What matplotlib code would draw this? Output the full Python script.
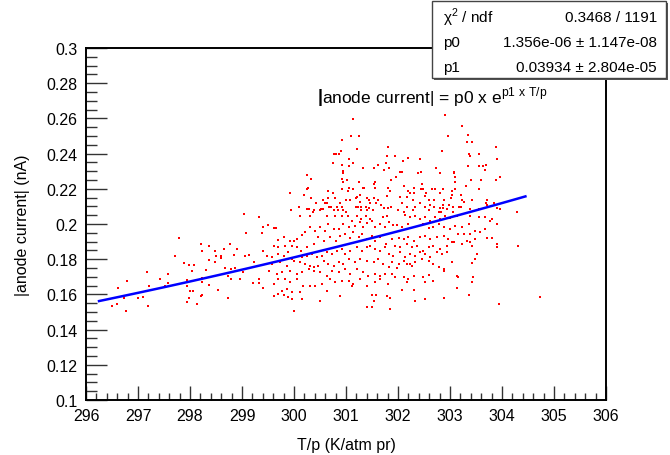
import numpy as np
import matplotlib
matplotlib.use("Agg")
import matplotlib.pyplot as plt
from matplotlib.ticker import MultipleLocator

plt.rcParams['font.family'] = ['Liberation Sans', 'DejaVu Sans']
plt.rcParams['mathtext.fontset'] = 'custom'
plt.rcParams['mathtext.rm'] = 'Liberation Sans'

# fit result shown in the stats box
chi2_ndf = "0.3468 / 1191"
p0_txt = "1.356e-06 ± 1.147e-08"
p1_txt = "0.03934 ± 2.804e-05"
p0 = 1.356e-06
p1 = 0.03934
fit_xmin, fit_xmax = 296.25, 304.45

# measured points (T/p, |anode current|), read off the plot region by region
# left, sparse part
left_x = [297.79, 297.71, 297.88, 297.98, 298.08, 298.04, 297.94, 297.94, 298.00, 298.06,
          297.98, 297.94, 298.13, 298.21, 298.23, 298.21, 298.23, 298.37, 298.31, 298.23,
          298.23, 298.37, 298.37, 298.48, 298.48, 298.50, 298.60, 298.60, 298.65, 298.54,
          298.77, 298.85, 298.90, 298.67, 298.79, 298.87, 298.73, 298.79, 298.73, 298.96,
          299.02, 299.06, 299.13, 299.08, 299.21, 299.33, 299.33, 299.23, 296.50, 296.60,
          296.73, 296.77, 296.79, 296.62, 297.00, 297.10, 297.17, 297.21, 297.19, 297.42,
          297.52, 297.58, 297.58, 299.04, 299.33]
left_y = [0.1920, 0.1818, 0.1778, 0.1767, 0.1767, 0.1733, 0.1682, 0.1648, 0.1619, 0.1619,
          0.1580, 0.1557, 0.1545, 0.1591, 0.1597, 0.1886, 0.1847, 0.1875, 0.1739, 0.1693,
          0.1670, 0.1795, 0.1653, 0.1847, 0.1784, 0.1818, 0.1818, 0.1807, 0.1858, 0.1625,
          0.1886, 0.1824, 0.1858, 0.1750, 0.1744, 0.1750, 0.1705, 0.1688, 0.1580, 0.1688,
          0.1727, 0.1818, 0.1824, 0.1949, 0.1665, 0.1665, 0.1688, 0.1784, 0.1534, 0.1545,
          0.1580, 0.1506, 0.1676, 0.1636, 0.1580, 0.1585, 0.1727, 0.1648, 0.1534, 0.1688,
          0.1648, 0.1665, 0.1716, 0.2057, 0.2040]

# upper part, 299.4 - 301.8
upA_x = [301.14, 301.10, 301.25, 300.92, 301.21, 300.90, 300.77, 300.81, 300.87, 301.80,
         301.78, 301.06, 300.74, 301.14, 300.92, 301.06, 301.76, 301.62, 301.82, 301.32,
         301.54, 301.73, 300.94, 300.94, 300.24, 300.33, 300.93, 301.01, 300.95, 301.24,
         301.55, 301.53, 301.56, 301.06, 300.92, 301.13, 301.32, 301.34, 300.27, 300.24,
         300.65, 301.04, 300.75, 299.92, 300.20, 301.26, 301.22, 301.81, 301.84, 300.33,
         300.65, 300.78, 301.19, 301.00, 301.08, 301.41, 301.44, 301.53, 301.61, 301.78,
         300.56, 300.42, 300.60, 300.63, 300.88, 301.27, 301.47, 301.57, 301.67, 300.10,
         300.24, 300.29, 300.52, 300.56, 300.67, 300.72, 300.82, 300.92, 301.19, 301.23,
         301.28, 301.38, 301.44, 301.73, 301.81, 299.95, 300.38, 300.36, 300.50, 300.77,
         300.85, 300.95, 301.00, 301.28, 301.40, 301.51]
upA_y = [0.2596, 0.2498, 0.2498, 0.2477, 0.2426, 0.2416, 0.2397, 0.2397, 0.2397, 0.2437,
         0.2388, 0.2367, 0.2348, 0.2348, 0.2337, 0.2327, 0.2346, 0.2337, 0.2316, 0.2316,
         0.2316, 0.2306, 0.2299, 0.2289, 0.2276, 0.2257, 0.2257, 0.2248, 0.2238, 0.2238,
         0.2238, 0.2227, 0.2206, 0.2206, 0.2197, 0.2197, 0.2206, 0.2206, 0.2206, 0.2197,
         0.2187, 0.2187, 0.2178, 0.2178, 0.2166, 0.2166, 0.2155, 0.2206, 0.2189, 0.2145,
         0.2145, 0.2145, 0.2145, 0.2138, 0.2138, 0.2145, 0.2138, 0.2145, 0.2138, 0.2157,
         0.2138, 0.2117, 0.2117, 0.2117, 0.2117, 0.2126, 0.2117, 0.2117, 0.2108, 0.2096,
         0.2087, 0.2087, 0.2087, 0.2087, 0.2098, 0.2098, 0.2098, 0.2098, 0.2098, 0.2098,
         0.2098, 0.2098, 0.2089, 0.2089, 0.2089, 0.2077, 0.2077, 0.2066, 0.2077, 0.2077,
         0.2077, 0.2077, 0.2066, 0.2077, 0.2077, 0.2077]

# upper part, 301.8 - 304.3
upB_x = [302.91, 303.24, 303.35, 302.97, 303.32, 303.42, 303.89, 302.85, 303.37, 303.39,
         303.56, 301.95, 302.19, 302.42, 302.10, 303.90, 303.69, 303.64, 303.67, 303.55,
         303.35, 302.74, 302.04, 302.08, 302.44, 302.38, 302.80, 303.08, 303.08, 303.96,
         303.89, 301.97, 303.10, 303.40, 303.59, 301.86, 303.10, 302.47, 302.11, 302.31,
         302.45, 302.49, 302.65, 302.72, 302.87, 303.04, 303.10, 303.31, 303.56, 301.85,
         302.19, 302.24, 302.31, 302.53, 302.80, 303.03, 303.01, 303.21, 302.03, 302.18,
         302.51, 302.28, 302.59, 302.70, 302.89, 303.23, 303.26, 303.43, 303.72, 302.07,
         302.42, 302.62, 302.70, 302.86, 302.98, 303.05, 302.94, 303.70, 303.72, 303.85,
         301.87, 301.99, 302.17, 302.33, 302.29, 302.51, 302.59, 302.80, 302.87, 303.17,
         303.22, 303.38, 303.55, 303.91, 303.96, 304.29, 302.78, 302.83, 303.06, 302.12]
upB_y = [0.2619, 0.2558, 0.2507, 0.2498, 0.2467, 0.2467, 0.2437, 0.2416, 0.2397, 0.2388,
         0.2397, 0.2388, 0.2377, 0.2367, 0.2358, 0.2367, 0.2337, 0.2327, 0.2306, 0.2327,
         0.2327, 0.2316, 0.2297, 0.2297, 0.2297, 0.2288, 0.2288, 0.2297, 0.2288, 0.2267,
         0.2248, 0.2267, 0.2267, 0.2248, 0.2248, 0.2248, 0.2238, 0.2227, 0.2216, 0.2206,
         0.2197, 0.2197, 0.2197, 0.2197, 0.2197, 0.2187, 0.2197, 0.2218, 0.2197, 0.2187,
         0.2187, 0.2178, 0.2178, 0.2176, 0.2176, 0.2166, 0.2145, 0.2166, 0.2155, 0.2155,
         0.2157, 0.2138, 0.2138, 0.2136, 0.2136, 0.2136, 0.2125, 0.2136, 0.2136, 0.2117,
         0.2117, 0.2108, 0.2098, 0.2108, 0.2108, 0.2098, 0.2085, 0.2117, 0.2108, 0.2117,
         0.2096, 0.2077, 0.2096, 0.2096, 0.2077, 0.2096, 0.2077, 0.2089, 0.2089, 0.2096,
         0.2096, 0.2087, 0.2087, 0.2089, 0.2085, 0.2066, 0.2066, 0.2066, 0.2066, 0.2066]

# lower part, 299.4 - 301.8
lowA_x = [299.41, 299.49, 299.61, 299.66, 299.38,
          300.11, 300.30, 300.63, 300.78, 300.93, 301.03, 301.21, 301.28, 301.38, 301.46, 301.71, 301.79,
          299.70, 299.80, 299.93, 299.99, 300.05, 300.16, 300.22, 300.31, 300.41, 300.50, 300.60,
          300.66, 300.76, 300.86, 300.95, 301.05, 301.11, 301.17, 301.27, 301.33, 301.40, 301.49,
          301.56, 301.65, 301.75, 301.82,
          299.61, 299.70, 299.83, 299.96, 300.05, 300.13, 300.25, 300.38, 300.47, 300.57, 300.69,
          300.81, 300.89, 300.98, 301.07, 301.14, 301.24, 301.30, 301.40, 301.49, 301.56, 301.65, 301.77,
          299.40, 299.48, 299.57, 299.70, 299.80, 299.89, 299.96, 300.15, 300.25, 300.34, 300.44,
          300.53, 300.63, 300.73, 300.82, 300.92, 300.98, 301.08, 301.21, 301.30, 301.40, 301.46,
          301.56, 301.65, 301.75, 301.82,
          299.57, 299.73, 299.86, 299.99, 300.12, 300.22, 300.31, 300.39, 300.47, 300.57, 300.66,
          300.76, 300.86, 300.95, 301.05, 301.17, 301.27, 301.40, 301.53, 301.62, 301.72, 301.82,
          299.51, 299.67, 299.77, 299.93, 300.05, 300.15, 300.28, 300.38, 300.50, 300.63, 300.73,
          300.86, 300.98, 301.08, 301.21, 301.33, 301.43, 301.56, 301.65, 301.75,
          299.70, 299.83, 299.93, 300.05, 300.17, 300.31, 300.41, 300.53, 300.69, 300.79, 300.92,
          301.05, 301.14, 301.27, 301.40, 301.56, 301.65, 301.80,
          299.41, 299.62, 299.77, 299.86, 299.96, 300.12, 300.63, 300.89, 301.11,
          299.61, 299.70, 299.80, 299.89, 299.96, 300.15, 300.50, 301.49, 301.58, 301.79, 301.53,
          301.40, 301.84, 299.99, 301.49]
lowA_y = [0.1985, 0.1996, 0.1977, 0.1977, 0.1947,
          0.2048, 0.2048, 0.2048, 0.2048, 0.2048, 0.2048, 0.2048, 0.2029, 0.2048, 0.2029, 0.2042, 0.2048,
          0.1909, 0.1924, 0.1905, 0.1905, 0.1915, 0.1940, 0.1953, 0.1981, 0.1962, 0.1985, 0.1962,
          0.2000, 0.1972, 0.1972, 0.2000, 0.1981, 0.2019, 0.1991, 0.2010, 0.1981, 0.2004, 0.2019,
          0.1981, 0.2000, 0.1981, 0.2010,
          0.1877, 0.1868, 0.1877, 0.1877, 0.1868, 0.1849, 0.1868, 0.1887, 0.1924, 0.1905, 0.1924,
          0.1905, 0.1934, 0.1943, 0.1921, 0.1953, 0.1924, 0.1943, 0.1915, 0.1934, 0.1905, 0.1924, 0.1887,
          0.1849, 0.1820, 0.1811, 0.1830, 0.1820, 0.1839, 0.1801, 0.1815, 0.1820, 0.1830, 0.1811,
          0.1820, 0.1839, 0.1830, 0.1849, 0.1858, 0.1830, 0.1849, 0.1868, 0.1849, 0.1868, 0.1877,
          0.1858, 0.1849, 0.1868, 0.1830,
          0.1773, 0.1782, 0.1763, 0.1792, 0.1782, 0.1773, 0.1763, 0.1754, 0.1763, 0.1792, 0.1773,
          0.1763, 0.1782, 0.1773, 0.1801, 0.1782, 0.1801, 0.1792, 0.1782, 0.1801, 0.1773, 0.1754,
          0.1735, 0.1716, 0.1726, 0.1735, 0.1716, 0.1726, 0.1744, 0.1735, 0.1726, 0.1707, 0.1735,
          0.1726, 0.1744, 0.1716, 0.1744, 0.1726, 0.1707, 0.1716, 0.1707, 0.1716,
          0.1688, 0.1688, 0.1669, 0.1688, 0.1650, 0.1650, 0.1650, 0.1659, 0.1688, 0.1669, 0.1678,
          0.1678, 0.1659, 0.1688, 0.1650, 0.1669, 0.1688, 0.1659,
          0.1637, 0.1659, 0.1621, 0.1631, 0.1612, 0.1612, 0.1621, 0.1593, 0.1650,
          0.1593, 0.1602, 0.1599, 0.1584, 0.1574, 0.1574, 0.1561, 0.1599, 0.1599, 0.1593, 0.1561,
          0.1527, 0.1517, 0.1508, 0.1527]

# lower part, 301.8 - 304.8
lowB_x = [302.14, 302.23, 302.33, 302.43, 302.52, 302.62, 302.72, 302.81, 302.91, 303.00,
          303.13, 303.39, 303.55, 303.68, 303.77, 303.81,
          301.91, 301.98, 302.07, 302.20, 302.30, 302.39, 302.49, 302.59, 302.68, 302.78,
          302.88, 303.00, 303.10, 303.23, 303.36, 303.48, 303.58, 303.68, 303.90,
          301.88, 302.01, 302.11, 302.20, 302.30, 302.43, 302.52, 302.62, 302.75, 302.88,
          302.97, 303.07, 303.16, 303.26, 303.39, 303.48, 303.39, 303.71, 303.81, 303.90, 304.31,
          301.95, 302.04, 302.17, 302.27, 302.36, 302.49, 302.59, 302.68, 302.81, 302.94,
          303.04, 303.23, 303.32, 303.42, 303.90,
          301.91, 302.04, 302.14, 302.23, 302.33, 302.43, 302.52, 302.62, 302.75, 302.84,
          302.94, 303.52, 303.48, 303.42,
          301.88, 302.01, 302.11, 302.23, 302.33, 302.46, 302.59, 302.68, 302.78, 302.88,
          303.04, 301.98, 302.17, 302.27,
          301.88, 301.95, 302.11, 302.20, 302.30, 302.49, 302.59, 302.88, 303.13, 303.16, 303.45,
          302.17, 302.52, 302.68, 303.42, 303.13, 302.30, 302.07, 303.36, 302.33, 302.52,
          302.88, 301.85, 303.95, 304.73]
lowB_y = [0.2053, 0.2038, 0.2048, 0.2029, 0.2038, 0.2019, 0.2042, 0.2029, 0.2048, 0.2034,
          0.2048, 0.2048, 0.2038, 0.2042, 0.2019, 0.2029,
          0.1996, 0.1996, 0.1981, 0.2000, 0.1981, 0.1991, 0.2000, 0.1977, 0.1981, 0.2000,
          0.1985, 0.1972, 0.1991, 0.1981, 0.2000, 0.1962, 0.1953, 0.1972, 0.2000,
          0.1915, 0.1921, 0.1915, 0.1924, 0.1905, 0.1924, 0.1934, 0.1915, 0.1924, 0.1934,
          0.1915, 0.1896, 0.1943, 0.1943, 0.1943, 0.1915, 0.1896, 0.1921, 0.1921, 0.1887, 0.1877,
          0.1877, 0.1868, 0.1887, 0.1868, 0.1877, 0.1849, 0.1868, 0.1877, 0.1858, 0.1877,
          0.1896, 0.1887, 0.1905, 0.1877, 0.1868,
          0.1820, 0.1839, 0.1811, 0.1830, 0.1820, 0.1839, 0.1830, 0.1811, 0.1839, 0.1830,
          0.1839, 0.1830, 0.1801, 0.1777,
          0.1782, 0.1773, 0.1792, 0.1773, 0.1782, 0.1801, 0.1792, 0.1773, 0.1754, 0.1744,
          0.1782, 0.1750, 0.1773, 0.1763,
          0.1716, 0.1697, 0.1697, 0.1688, 0.1707, 0.1697, 0.1712, 0.1735, 0.1707, 0.1697, 0.1697,
          0.1669, 0.1669, 0.1678, 0.1669, 0.1637, 0.1625, 0.1625, 0.1599, 0.1565, 0.1574,
          0.1580, 0.1580, 0.1546, 0.1585]

tp = np.concatenate([left_x, upA_x, upB_x, lowA_x, lowB_x])
cur = np.concatenate([left_y, upA_y, upB_y, lowA_y, lowB_y])

fig = plt.figure(figsize=(6.7, 4.56), dpi=100)
ax = fig.add_axes([0.1284, 0.1206, 0.7761, 0.7719])

ax.scatter(tp, cur, s=4.2, marker='s', color='#ff0000', linewidths=0, zorder=2)

xf = np.linspace(fit_xmin, fit_xmax, 100)
ax.plot(xf, p0 * np.exp(p1 * xf), color='blue', lw=1.8, zorder=3)

ax.set_xlim(296, 306)
ax.set_ylim(0.1, 0.3)
ax.xaxis.set_major_locator(MultipleLocator(1))
ax.xaxis.set_minor_locator(MultipleLocator(0.2))
ax.yaxis.set_major_locator(MultipleLocator(0.02))
ax.yaxis.set_minor_locator(MultipleLocator(0.005))
ax.yaxis.set_major_formatter(plt.FuncFormatter(lambda v, p: f"{v:.2f}".rstrip('0') if v > 0.099 else ''))
ax.tick_params(axis='both', which='both', direction='in', labelsize=11.5, width=1.0, color='#333333')
ax.tick_params(axis='x', which='major', length=10, pad=6)
ax.tick_params(axis='x', which='minor', length=5)
ax.tick_params(axis='y', which='major', length=15, pad=6)
ax.tick_params(axis='y', which='minor', length=8)
for sp in ax.spines.values():
    sp.set_linewidth(1.4)

ax.set_xlabel("T/p (K/atm pr)", fontsize=11.5, labelpad=10)
ax.set_ylabel("|anode current| (nA)", fontsize=11.5, labelpad=12)

# fit formula, first bar drawn heavier like in the original
fig.text(318 / 670, 1 - 97 / 456, "|", fontsize=13, fontweight='bold', va='center', ha='left')
fig.text(322 / 670, 1 - 97 / 456, r"anode current| = p0 x e$^{\mathrm{p1\ x\ T/p}}$",
         fontsize=12.5, va='center', ha='left')

# stats box
bx0, by0, bx1, by1 = 432, 2, 666, 79
shadow = plt.Rectangle((bx0 + 2, 456 - by1 - 2), bx1 - bx0, by1 - by0, transform=None,
                       facecolor='#555555', edgecolor='none', zorder=5)
box = plt.Rectangle((bx0, 456 - by1), bx1 - bx0, by1 - by0, transform=None,
                    facecolor='white', edgecolor='#444444', lw=1.0, zorder=6)
fig.add_artist(shadow)
fig.add_artist(box)
rows = [("χ$^{2}$ / ndf", chi2_ndf), ("p0", p0_txt), ("p1", p1_txt)]
for i, (lab, val) in enumerate(rows):
    yy = 1 - (18 + i * 25) / 456
    fig.text(443 / 670, yy, lab, fontsize=11, va='center', ha='left', zorder=7)
    fig.text(657 / 670, yy, val, fontsize=11, va='center', ha='right', zorder=7)

fig.savefig("out.png", dpi=100)
